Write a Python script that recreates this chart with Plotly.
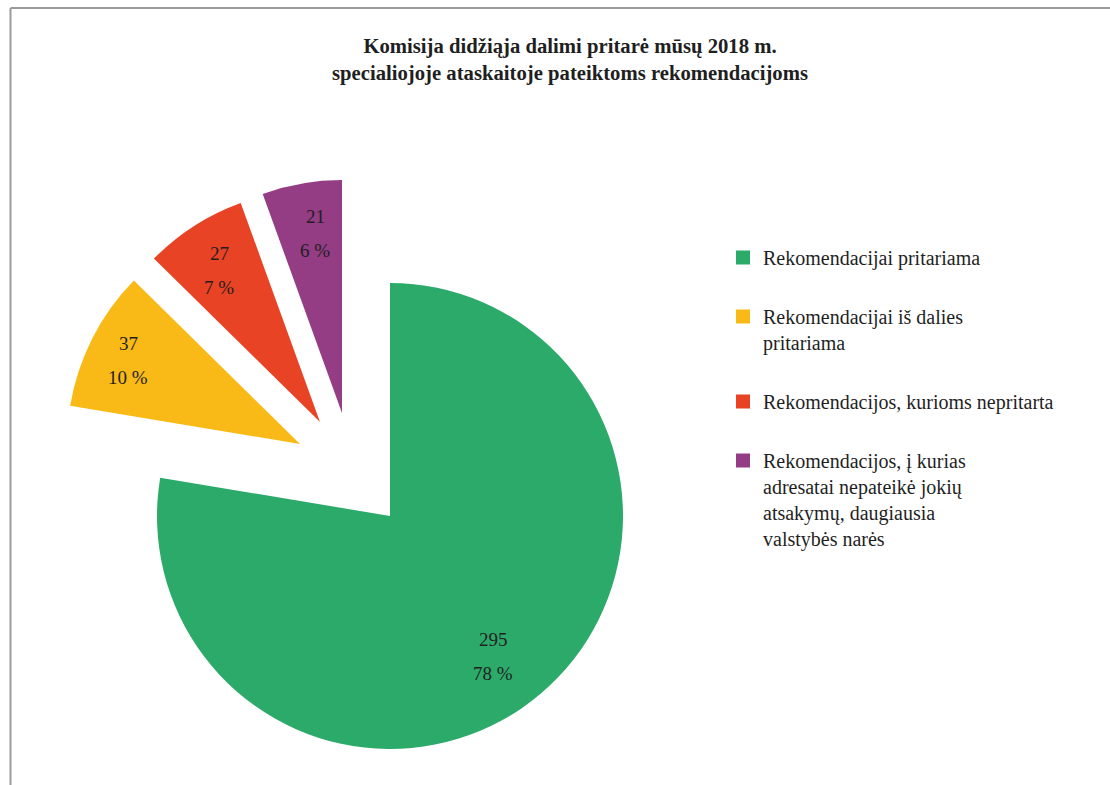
import math
import plotly.graph_objects as go

# Recommendation categories and counts
labels = [
    "Rekomendacijai pritariama",
    "Rekomendacijai iš dalies<br>pritariama",
    "Rekomendacijos, kurioms nepritarta",
    "Rekomendacijos, į kurias<br>adresatai nepateikė jokių<br>atsakymų, daugiausia<br>valstybės narės",
]
values = [295, 37, 27, 21]
colors = ["#2CAA6A", "#F9B917", "#E84325", "#943C84"]
title_lines = [
    "Komisija didžiąja dalimi pritarė mūsų 2018 m.",
    "specialiojoje ataskaitoje pateiktoms rekomendacijoms",
]

# Layout geometry (pixels)
W, H = 1110, 785
CX, CY, R = 390, 516, 233
explode = [(0, 0), (-90, -72), (-70, -94), (-48, -103)]  # slice offsets
label_r = [0.75, 0.82, 0.78, 0.78]                        # label radius fraction
label_turn = [4, -1, -1, 1.5]                             # label angle tweak (deg)
FONT = "Liberation Serif"
INK = "#1f1f1f"

total = sum(values)
fig = go.Figure()

# One pie per slice so each slice can sit at its own exploded position
cum = 0
for i, v in enumerate(values):
    dx, dy = explode[i]
    cx, cy = CX + dx, CY + dy
    fig.add_trace(go.Pie(
        values=values,
        labels=labels,
        sort=False,
        direction="clockwise",
        rotation=0,
        marker=dict(
            colors=[c if j == i else "rgba(0,0,0,0)" for j, c in enumerate(colors)],
            line=dict(width=0),
        ),
        textinfo="none",
        hoverinfo="skip",
        showlegend=False,
        domain=dict(x=[(cx - R) / W, (cx + R) / W],
                    y=[1 - (cy + R) / H, 1 - (cy - R) / H]),
    ))
    mid = 360.0 * (cum + v / 2) / total + label_turn[i]
    cum += v
    a = math.radians(mid)
    lx = cx + label_r[i] * R * math.sin(a)
    ly = cy - label_r[i] * R * math.cos(a)
    pct = round(100 * v / total)
    for txt, off in ((str(v), -17), (f"{pct} %", 17)):
        fig.add_annotation(
            x=lx / W, y=1 - (ly + off) / H, xref="paper", yref="paper",
            text=txt, showarrow=False,
            font=dict(family=FONT, size=19, color=INK),
            xanchor="center", yanchor="middle",
        )

# Legend entries
for i in range(len(values)):
    fig.add_trace(go.Scatter(
        x=[None], y=[None], mode="markers", name=labels[i],
        marker=dict(symbol="square", size=14, color=colors[i]),
        legendgroup=f"g{i}", hoverinfo="skip",
    ))

# Frame lines (top and left)
fig.add_shape(type="line", xref="paper", yref="paper",
              x0=10.5 / W, x1=1, y0=1 - 8 / H, y1=1 - 8 / H,
              line=dict(color="#9a9a9a", width=2))
fig.add_shape(type="line", xref="paper", yref="paper",
              x0=10.5 / W, x1=10.5 / W, y0=0, y1=1 - 8 / H,
              line=dict(color="#9a9a9a", width=2))

fig.update_layout(
    width=W, height=H,
    margin=dict(l=0, r=0, t=0, b=0),
    paper_bgcolor="white", plot_bgcolor="white",
    title=dict(
        text="<b>" + "<br>".join(title_lines) + "</b>",
        x=570 / W, xanchor="center",
        y=1 - 53 / H, yanchor="middle",
        font=dict(family=FONT, size=20.7, color=INK),
    ),
    xaxis=dict(visible=False),
    yaxis=dict(visible=False),
    legend=dict(
        x=723 / W, xanchor="left",
        y=1 - 238 / H, yanchor="top",
        font=dict(family=FONT, size=20, color=INK),
        valign="top",
        tracegroupgap=30,
        bgcolor="rgba(0,0,0,0)",
    ),
    showlegend=True,
)

fig.write_html("out.html")
